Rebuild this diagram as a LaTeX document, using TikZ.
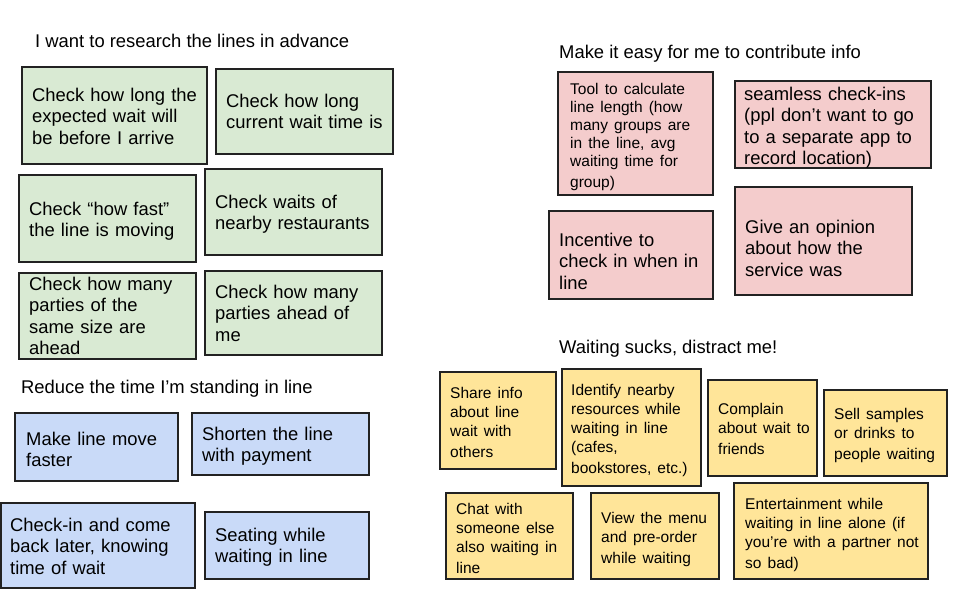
\documentclass[tikz,border=0pt]{standalone}
\usepackage{fontspec}
\setmainfont{Liberation Sans}
\newcommand\bigf{\fontsize{18.4}{21.4}\selectfont}
\newcommand\smallf{\fontsize{15.5}{17.9}\selectfont}
\newcommand\yelf{\fontsize{15.5}{19}\selectfont}
\definecolor{gfill}{HTML}{D9EAD3}
\definecolor{pfill}{HTML}{F4CCCC}
\definecolor{bfill}{HTML}{C9DAF8}
\definecolor{yfill}{HTML}{FFE599}
\definecolor{edge}{HTML}{222222}
\tikzset{
  note/.style={draw=edge, line width=1.4pt, inner sep=0pt, outer sep=0pt, rectangle},
  gnote/.style={note, fill=gfill},
  pnote/.style={note, fill=pfill},
  bnote/.style={note, fill=bnote},
  bnote/.style={note, fill=bfill},
  ynote/.style={note, fill=yfill},
  stxt/.style={inner sep=0pt, align=left, text width=260pt, font=\bigf},
  ttl/.style={inner sep=0pt, anchor=north west, font=\bigf}
}
\newcommand\mysticky[9]{%
  \node[#2, minimum width={(#5-#3)*1pt}, minimum height={(#6-#4)*1pt}, anchor=north west] (#1) at (#3,#4) {};
  \node[stxt, anchor=north west] (#1t) at (#7,#8) {#9};}
\begin{document}
\begin{tikzpicture}[x=1pt,y=-1pt]
\useasboundingbox[fill=white] (0,0) rectangle (960,600);
% titles
\node[ttl] (t1) at (35,34) {I want to research the lines in advance};
\node[ttl] (t2) at (559,45) {Make it easy for me to contribute info};
\node[ttl] (t3) at (21,380) {Reduce the time I’m standing in line};
\node[ttl] (t4) at (559,340) {Waiting sucks, distract me!};
% green
\mysticky{g1}{gnote}{22}{67}{207}{164}{32}{88}{Check how long the\\expected wait will\\be before I arrive}
\mysticky{g2}{gnote}{216}{69}{393}{154}{226}{94}{Check how long\\current wait time is}
\mysticky{g3}{gnote}{19}{175}{196}{262}{29}{202}{Check “how fast”\\the line is moving}
\mysticky{g4}{gnote}{205}{169}{382}{255}{215}{195}{Check waits of\\nearby restaurants}
\mysticky{g5}{gnote}{19}{273}{196}{359}{29}{277}{Check how many\\parties of the\\same size are\\ahead}
\mysticky{g6}{gnote}{205}{271}{382}{355}{215}{285}{Check how many\\parties ahead of\\me}
% pink
\mysticky{p1}{pnote}{558}{72}{713}{195}{570}{83}{\smallf Tool to calculate\\line length (how\\many groups are\\in the line, avg\\waiting time for\\group)}
\mysticky{p2}{pnote}{735}{81}{931}{168}{744}{87}{seamless check-ins\\(ppl don’t want to go\\to a separate app to\\record location)}
\mysticky{p3}{pnote}{549}{211}{713}{299}{559}{233}{Incentive to\\check in when in\\line}
\mysticky{p4}{pnote}{735}{187}{912}{295}{745}{220}{Give an opinion\\about how the\\service was}
% blue
\mysticky{b1}{bnote}{15}{413}{178}{481}{26}{432}{Make line move\\faster}
\mysticky{b2}{bnote}{192}{413}{369}{475}{202}{427}{Shorten the line\\with payment}
\mysticky{b3}{bnote}{1}{503}{195}{588}{10}{518}{Check-in and come\\back later, knowing\\time of wait}
\mysticky{b4}{bnote}{205}{512}{369}{579}{215}{528}{Seating while\\waiting in line}
% yellow
\mysticky{y1}{ynote}{440}{372}{556}{469}{450}{387}{\yelf Share info\\about line\\wait with\\others}
\mysticky{y2}{ynote}{562}{369}{701}{486}{571}{384}{\yelf Identify nearby\\resources while\\waiting in line\\(cafes,\\bookstores, etc.)}
\mysticky{y3}{ynote}{708}{380}{817}{476}{718}{403}{\yelf Complain\\about wait to\\friends}
\mysticky{y4}{ynote}{824}{390}{947}{476}{834}{408}{\yelf Sell samples\\or drinks to\\people waiting}
\mysticky{y5}{ynote}{446}{493}{573}{579}{456}{503}{\yelf Chat with\\someone else\\also waiting in\\line}
\mysticky{y6}{ynote}{591}{493}{719}{579}{601}{512}{\yelf View the menu\\and pre-order\\while waiting}
\mysticky{y7}{ynote}{734}{483}{928}{579}{745}{498}{\yelf Entertainment while\\waiting in line alone (if\\you’re with a partner not\\so bad)}
\end{tikzpicture}
\end{document}
